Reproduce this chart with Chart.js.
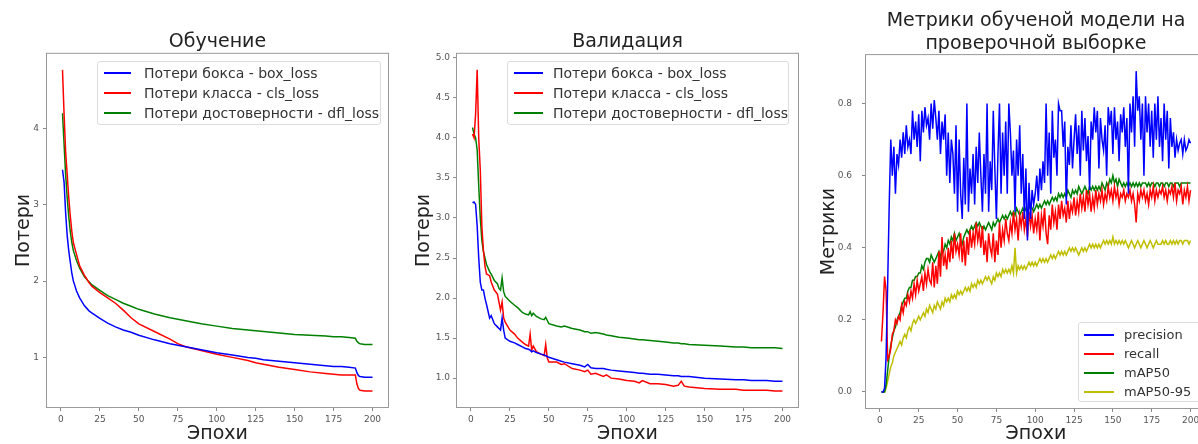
<!DOCTYPE html>
<html lang="ru">
<head>
    <meta charset="UTF-8">
    <title>Обучение, валидация и метрики модели</title>
    <script src="https://cdn.jsdelivr.net/npm/chart.js@4.4.1/dist/chart.umd.min.js"></script>
    <style>
        body {
            margin: 0;
            width: 1198px;
            height: 444px;
            overflow: hidden;
            background: #fff;
            font-family: 'DejaVu Sans', sans-serif;
        }
        .panel {
            position: absolute;
            top: 0;
            height: 444px;
        }
        .legend {
            position: absolute;
            box-sizing: border-box;
            border: 1px solid #ddd;
            border-radius: 3px;
            background: rgba(255, 255, 255, 0.85);
            color: #333;
            white-space: nowrap;
        }
        .legend .row {
            display: flex;
            align-items: center;
        }
        .legend .swatch {
            display: inline-block;
            height: 2px;
        }
    </style>
</head>
<body>
    <div class="panel" id="p1" style="left:0;width:400px"><canvas id="c1" width="400" height="444"></canvas></div>
    <div class="panel" id="p2" style="left:400px;width:400px"><canvas id="c2" width="400" height="444"></canvas></div>
    <div class="panel" id="p3" style="left:800px;width:410px"><canvas id="c3" width="410" height="444"></canvas></div>
    <div class="legend" id="l1" style="left:97px;top:61px;width:284px;height:64px;padding:1px 0 0 6px;font-size:14px"></div>
    <div class="legend" id="l2" style="left:507px;top:61px;width:282px;height:64px;padding:1px 0 0 6px;font-size:14px"></div>
    <div class="legend" id="l3" style="left:1078px;top:322px;width:130px;height:80px;padding:2px 0 0 5px;font-size:13px"></div>

    <script>
        // --- data -------------------------------------------------------
        const xTicks = [0, 25, 50, 75, 100, 125, 150, 175, 200];
        const lossNames = ['Потери бокса - box_loss', 'Потери класса - cls_loss', 'Потери достоверности - dfl_loss'];
        const metricNames = ['precision', 'recall', 'mAP50', 'mAP50-95'];

        // training losses
        const trainEpochs = [1, 2, 3, 4, 5, 6, 7, 8, 10, 12, 15, 18, 20, 25, 30, 35, 40, 45, 50, 60, 70, 75, 80, 90, 100, 110, 120, 125, 130, 140, 150, 160, 170, 175, 180, 185, 189, 190, 191, 192, 195, 200];
        const trainBox = [3.46, 3.30, 2.90, 2.60, 2.40, 2.25, 2.10, 2.00, 1.87, 1.78, 1.68, 1.61, 1.58, 1.51, 1.45, 1.40, 1.36, 1.33, 1.29, 1.23, 1.18, 1.16, 1.14, 1.10, 1.06, 1.03, 1.00, 0.99, 0.97, 0.95, 0.93, 0.91, 0.89, 0.88, 0.88, 0.87, 0.86, 0.80, 0.76, 0.75, 0.74, 0.74];
        const trainCls = [4.77, 4.20, 3.70, 3.40, 3.10, 2.85, 2.65, 2.50, 2.35, 2.20, 2.08, 1.98, 1.93, 1.85, 1.78, 1.71, 1.62, 1.52, 1.44, 1.34, 1.24, 1.18, 1.14, 1.09, 1.04, 1.00, 0.96, 0.93, 0.91, 0.87, 0.84, 0.81, 0.79, 0.78, 0.77, 0.77, 0.77, 0.65, 0.59, 0.57, 0.56, 0.56];
        const trainDfl = [4.20, 3.80, 3.40, 3.10, 2.85, 2.65, 2.50, 2.40, 2.27, 2.17, 2.06, 1.99, 1.95, 1.88, 1.81, 1.76, 1.71, 1.67, 1.63, 1.57, 1.52, 1.50, 1.48, 1.44, 1.41, 1.38, 1.36, 1.35, 1.34, 1.32, 1.30, 1.29, 1.28, 1.27, 1.27, 1.26, 1.25, 1.21, 1.19, 1.18, 1.17, 1.17];
        const trainYTicks = [1, 2, 3, 4];

        // validation losses
        const valEpochs = [1, 2, 3, 4, 5, 6, 7, 8, 9, 10, 12, 13, 15, 17, 18, 19, 20, 21, 22, 25, 28, 30, 33, 35, 37, 38, 39, 40, 42, 45, 47, 48, 49, 50, 55, 58, 60, 65, 70, 73, 75, 77, 80, 85, 87, 90, 95, 100, 105, 108, 110, 115, 120, 125, 130, 133, 135, 137, 140, 150, 160, 170, 175, 180, 190, 195, 200];
        const valBox = [3.19, 3.20, 3.17, 2.90, 2.50, 2.20, 2.10, 2.10, 2.00, 1.92, 1.75, 1.78, 1.68, 1.64, 1.62, 1.60, 1.75, 1.60, 1.50, 1.46, 1.44, 1.42, 1.39, 1.37, 1.36, 1.35, 1.33, 1.34, 1.32, 1.30, 1.29, 1.28, 1.27, 1.26, 1.23, 1.21, 1.20, 1.18, 1.16, 1.14, 1.17, 1.13, 1.12, 1.12, 1.11, 1.10, 1.09, 1.08, 1.07, 1.06, 1.06, 1.05, 1.05, 1.04, 1.03, 1.03, 1.02, 1.02, 1.02, 1.00, 0.99, 0.98, 0.98, 0.97, 0.97, 0.96, 0.96];
        const valCls = [4.05, 4.00, 4.30, 4.85, 4.00, 3.60, 2.90, 2.60, 2.40, 2.30, 2.28, 2.20, 2.10, 2.05, 1.95, 1.85, 1.95, 1.75, 1.70, 1.60, 1.55, 1.50, 1.45, 1.42, 1.40, 1.55, 1.35, 1.40, 1.33, 1.30, 1.28, 1.42, 1.25, 1.20, 1.20, 1.17, 1.18, 1.12, 1.10, 1.08, 1.10, 1.05, 1.06, 1.02, 1.04, 1.00, 0.99, 0.97, 0.96, 0.94, 0.97, 0.93, 0.93, 0.92, 0.90, 0.91, 0.96, 0.90, 0.89, 0.87, 0.86, 0.86, 0.85, 0.85, 0.85, 0.84, 0.84];
        const valDfl = [4.13, 4.05, 4.00, 3.85, 3.40, 3.00, 2.72, 2.58, 2.50, 2.42, 2.33, 2.30, 2.22, 2.18, 2.12, 2.10, 2.25, 2.08, 2.02, 1.96, 1.91, 1.88, 1.82, 1.80, 1.79, 1.83, 1.78, 1.81, 1.77, 1.74, 1.73, 1.76, 1.72, 1.68, 1.65, 1.64, 1.65, 1.62, 1.60, 1.58, 1.58, 1.56, 1.57, 1.55, 1.54, 1.53, 1.51, 1.50, 1.49, 1.48, 1.48, 1.47, 1.46, 1.45, 1.44, 1.44, 1.43, 1.43, 1.42, 1.41, 1.40, 1.39, 1.39, 1.38, 1.38, 1.38, 1.37];
        const valYTicks = [1.0, 1.5, 2.0, 2.5, 3.0, 3.5, 4.0, 4.5, 5.0];

        // metrics, one value per epoch 1..200
        const metricEpochs = Array.from({ length: 200 }, (_, i) => i + 1);
        const precision = [
            0.00, 0.00, 0.01, 0.10, 0.30, 0.52, 0.70, 0.60, 0.68, 0.55,
            0.66, 0.63, 0.70, 0.65, 0.72, 0.66, 0.74, 0.68, 0.70, 0.66,
            0.78, 0.70, 0.75, 0.68, 0.77, 0.64, 0.78, 0.72, 0.79, 0.74,
            0.76, 0.70, 0.80, 0.73, 0.81, 0.76, 0.70, 0.78, 0.66, 0.75,
            0.70, 0.77, 0.60, 0.72, 0.58, 0.70, 0.66, 0.55, 0.74, 0.50,
            0.70, 0.55, 0.48, 0.65, 0.52, 0.80, 0.50, 0.62, 0.55, 0.66,
            0.52, 0.68, 0.58, 0.72, 0.60, 0.50, 0.66, 0.55, 0.80, 0.50,
            0.64, 0.56, 0.78, 0.62, 0.48, 0.66, 0.80, 0.55, 0.72, 0.60,
            0.75, 0.55, 0.80, 0.72, 0.60, 0.67, 0.50, 0.70, 0.60, 0.74,
            0.55, 0.66, 0.48, 0.62, 0.42, 0.58, 0.48, 0.56, 0.52, 0.55,
            0.60, 0.53, 0.62, 0.56, 0.64, 0.58, 0.80, 0.60, 0.72, 0.55,
            0.78, 0.65, 0.70, 0.60, 0.80, 0.78, 0.78, 0.68, 0.75, 0.52,
            0.68, 0.63, 0.74, 0.62, 0.70, 0.77, 0.66, 0.74, 0.60, 0.78,
            0.67, 0.76, 0.64, 0.71, 0.56, 0.75, 0.70, 0.79, 0.72, 0.78,
            0.62, 0.76, 0.70, 0.67, 0.74, 0.60, 0.79, 0.74, 0.78, 0.66,
            0.79, 0.70, 0.75, 0.64, 0.77, 0.72, 0.79, 0.68, 0.76, 0.55,
            0.80, 0.72, 0.82, 0.68, 0.89, 0.78, 0.82, 0.70, 0.80, 0.60,
            0.82, 0.72, 0.80, 0.68, 0.78, 0.65, 0.80, 0.70, 0.82, 0.68,
            0.76, 0.64, 0.80, 0.70, 0.78, 0.62, 0.76, 0.68, 0.72, 0.65,
            0.70, 0.67, 0.69, 0.70, 0.66, 0.70, 0.67, 0.68, 0.70, 0.69
        ];
        const recall = [
            0.14, 0.22, 0.32, 0.28, 0.09, 0.10, 0.12, 0.16, 0.17, 0.20,
            0.19, 0.21, 0.20, 0.24, 0.22, 0.25, 0.24, 0.27, 0.25, 0.28,
            0.26, 0.30, 0.27, 0.31, 0.28, 0.30, 0.32, 0.28, 0.33, 0.30,
            0.34, 0.31, 0.30, 0.36, 0.29, 0.35, 0.30, 0.39, 0.32, 0.43,
            0.35, 0.38, 0.34, 0.40, 0.36, 0.42, 0.37, 0.44, 0.39, 0.41,
            0.38, 0.44, 0.36, 0.42, 0.35, 0.43, 0.38, 0.45, 0.40, 0.44,
            0.41, 0.47, 0.42, 0.45, 0.40, 0.46, 0.38, 0.42, 0.36, 0.44,
            0.40, 0.38, 0.44, 0.36, 0.42, 0.38, 0.47, 0.40, 0.45, 0.42,
            0.48, 0.44, 0.42, 0.47, 0.44, 0.50, 0.45, 0.48, 0.42, 0.49,
            0.46, 0.50, 0.45, 0.48, 0.43, 0.50, 0.46, 0.49, 0.44, 0.48,
            0.45, 0.50, 0.42, 0.49, 0.46, 0.51, 0.44, 0.41, 0.49, 0.45,
            0.52, 0.47, 0.50, 0.45, 0.52, 0.48, 0.53, 0.49, 0.51, 0.47,
            0.53, 0.48, 0.52, 0.50, 0.54, 0.49, 0.53, 0.50, 0.55, 0.51,
            0.54, 0.50, 0.56, 0.52, 0.55, 0.50, 0.54, 0.51, 0.56, 0.52,
            0.55, 0.53, 0.56, 0.52, 0.55, 0.53, 0.57, 0.54, 0.56, 0.53,
            0.57, 0.54, 0.56, 0.52, 0.55, 0.54, 0.56, 0.53, 0.55, 0.54,
            0.56, 0.53, 0.55, 0.52, 0.47, 0.55, 0.53, 0.56, 0.54, 0.56,
            0.53, 0.55, 0.52, 0.56, 0.54, 0.57, 0.53, 0.56, 0.54, 0.56,
            0.55, 0.57, 0.54, 0.56, 0.53, 0.56, 0.55, 0.57, 0.54, 0.58,
            0.53, 0.56, 0.55, 0.57, 0.52, 0.56, 0.54, 0.57, 0.53, 0.56
        ];
        const map50 = [
            0.00, 0.00, 0.00, 0.02, 0.06, 0.10, 0.13, 0.15, 0.17, 0.18,
            0.20, 0.21, 0.22, 0.24, 0.25, 0.26, 0.26, 0.28, 0.29, 0.29,
            0.31, 0.31, 0.32, 0.32, 0.33, 0.33, 0.35, 0.34, 0.36, 0.37,
            0.37, 0.36, 0.38, 0.37, 0.36, 0.37, 0.38, 0.39, 0.37, 0.40,
            0.39, 0.41, 0.40, 0.42, 0.41, 0.43, 0.42, 0.44, 0.42, 0.43,
            0.44, 0.42, 0.41, 0.43, 0.44, 0.45, 0.44, 0.45, 0.46, 0.45,
            0.46, 0.47, 0.46, 0.47, 0.46, 0.45, 0.46, 0.45, 0.46, 0.47,
            0.46, 0.45, 0.47, 0.46, 0.47, 0.48, 0.47, 0.48, 0.49, 0.48,
            0.49, 0.48, 0.49, 0.50, 0.49, 0.50, 0.49, 0.51, 0.50, 0.49,
            0.50, 0.51, 0.50, 0.51, 0.50, 0.51, 0.52, 0.51, 0.50, 0.51,
            0.52, 0.51, 0.52, 0.51, 0.52, 0.53, 0.52, 0.53, 0.52, 0.53,
            0.54, 0.53, 0.54, 0.53, 0.55, 0.54, 0.55, 0.54, 0.55, 0.54,
            0.56, 0.55, 0.54, 0.56, 0.55, 0.56, 0.55, 0.57, 0.56, 0.55,
            0.56, 0.57, 0.56, 0.55, 0.57, 0.56, 0.57, 0.56, 0.57, 0.56,
            0.57, 0.56, 0.58, 0.57, 0.56, 0.58, 0.57, 0.59, 0.58, 0.60,
            0.58, 0.59, 0.57, 0.59, 0.58, 0.57, 0.58, 0.57, 0.58, 0.57,
            0.58, 0.57, 0.58, 0.57, 0.58, 0.57, 0.58, 0.57, 0.58, 0.58,
            0.58, 0.57, 0.58, 0.57, 0.58, 0.58, 0.57, 0.58, 0.58, 0.57,
            0.58, 0.58, 0.57, 0.58, 0.58, 0.57, 0.58, 0.58, 0.57, 0.58,
            0.58, 0.58, 0.57, 0.58, 0.58, 0.58, 0.58, 0.58, 0.58, 0.58
        ];
        const map5095 = [
            0.00, 0.00, 0.00, 0.01, 0.03, 0.05, 0.07, 0.08, 0.10, 0.11,
            0.12, 0.13, 0.14, 0.13, 0.15, 0.16, 0.15, 0.17, 0.18, 0.17,
            0.19, 0.20, 0.19, 0.20, 0.21, 0.20, 0.21, 0.22, 0.21, 0.23,
            0.22, 0.24, 0.23, 0.22, 0.24, 0.23, 0.25, 0.24, 0.23, 0.25,
            0.24, 0.26, 0.25, 0.26, 0.25, 0.27, 0.26, 0.27, 0.26, 0.28,
            0.27, 0.28, 0.27, 0.28, 0.29, 0.28, 0.29, 0.28, 0.30, 0.29,
            0.30, 0.29, 0.31, 0.30, 0.31, 0.30, 0.31, 0.32, 0.31, 0.32,
            0.31, 0.30, 0.32, 0.31, 0.33, 0.32, 0.33, 0.32, 0.34, 0.33,
            0.34, 0.33, 0.34, 0.33, 0.35, 0.33, 0.40, 0.33, 0.35, 0.34,
            0.35, 0.34, 0.35, 0.34, 0.35, 0.36, 0.35, 0.36, 0.35, 0.36,
            0.35, 0.36, 0.37, 0.36, 0.37, 0.36, 0.37, 0.36, 0.37, 0.38,
            0.37, 0.38, 0.37, 0.38, 0.39, 0.38, 0.39, 0.38, 0.39, 0.38,
            0.39, 0.40, 0.39, 0.40, 0.39, 0.40, 0.39, 0.38, 0.39, 0.40,
            0.39, 0.40, 0.39, 0.40, 0.41, 0.40, 0.41, 0.40, 0.41, 0.40,
            0.41, 0.40, 0.41, 0.42, 0.41, 0.42, 0.41, 0.42, 0.41, 0.43,
            0.41, 0.42, 0.41, 0.42, 0.41, 0.42, 0.41, 0.42, 0.41, 0.40,
            0.41, 0.42, 0.41, 0.40, 0.41, 0.42, 0.41, 0.40, 0.41, 0.42,
            0.41, 0.40, 0.41, 0.42, 0.41, 0.40, 0.41, 0.42, 0.41, 0.41,
            0.41, 0.42, 0.41, 0.42, 0.41, 0.41, 0.42, 0.41, 0.42, 0.41,
            0.42, 0.41, 0.42, 0.42, 0.41, 0.42, 0.42, 0.42, 0.41, 0.42
        ];
        const metricYTicks = [0.0, 0.2, 0.4, 0.6, 0.8];

        // --- drawing ----------------------------------------------------
        Chart.defaults.font.family = "'DejaVu Sans', sans-serif";
        Chart.defaults.color = '#555';

        const lossColors = ['#0000ff', '#ff0000', '#008000'];
        const metricColors = ['#0000ff', '#ff0000', '#008000', '#bfbf00'];

        // matplotlib-like frame round the plot area
        const framePlugin = {
            id: 'frame',
            afterDatasetsDraw(chart) {
                const { ctx, chartArea: a } = chart;
                ctx.save();
                ctx.strokeStyle = '#999';
                ctx.lineWidth = 1;
                ctx.strokeRect(a.left - 0.5, a.top - 0.5, a.right - a.left + 1, a.bottom - a.top + 1);
                ctx.restore();
            }
        };

        // 5% margin like matplotlib autoscale
        function range(values) {
            const lo = Math.min(...values), hi = Math.max(...values);
            const pad = (hi - lo) * 0.05;
            return { min: lo - pad, max: hi + pad };
        }

        function makePanel(opt) {
            const xr = range(opt.epochs);
            const yr = range(opt.series.flat());
            const datasets = opt.series.map((vals, i) => ({
                label: opt.names[i],
                data: vals.map((v, j) => ({ x: opt.epochs[j], y: v })),
                borderColor: opt.colors[i],
                borderWidth: 1.5,
                pointRadius: 0,
                tension: 0,
                fill: false
            }));

            const chart = new Chart(document.getElementById(opt.canvas), {
                type: 'line',
                data: { datasets },
                plugins: [framePlugin],
                options: {
                    responsive: false,
                    animation: false,
                    devicePixelRatio: 1,
                    layout: { padding: { left: 0, right: opt.padRight, top: 0, bottom: 0 } },
                    plugins: {
                        legend: { display: false },
                        tooltip: { enabled: false },
                        title: {
                            display: true,
                            text: opt.title,
                            fullSize: false,
                            color: '#222',
                            font: { size: 19, weight: 'normal', lineHeight: 1.2 },
                            padding: { top: opt.titleTop, bottom: 0 }
                        }
                    },
                    scales: {
                        x: {
                            type: 'linear',
                            min: xr.min,
                            max: xr.max,
                            afterBuildTicks: s => { s.ticks = xTicks.map(v => ({ value: v })); },
                            afterFit: s => { s.height = opt.xHeight; },
                            border: { display: false },
                            grid: { drawOnChartArea: false, drawTicks: true, tickLength: 4, tickColor: '#888' },
                            ticks: { font: { size: 9 }, padding: 3, maxRotation: 0, autoSkip: false },
                            title: {
                                display: true,
                                text: 'Эпохи',
                                color: '#222',
                                font: { size: 19, lineHeight: 1 },
                                padding: { top: 0, bottom: 0 }
                            }
                        },
                        y: {
                            type: 'linear',
                            min: yr.min,
                            max: yr.max,
                            afterBuildTicks: s => { s.ticks = opt.yTicks.map(v => ({ value: v })); },
                            afterFit: s => { s.width = opt.yWidth; },
                            border: { display: false },
                            grid: { drawOnChartArea: false, drawTicks: true, tickLength: 4, tickColor: '#888' },
                            ticks: {
                                font: { size: 9 },
                                padding: opt.yTickPad,
                                autoSkip: false,
                                callback: v => v.toFixed(opt.yDigits)
                            },
                            title: {
                                display: true,
                                text: opt.yTitle,
                                color: '#222',
                                font: { size: 19, lineHeight: 1 },
                                padding: { top: opt.yTitlePad, bottom: 0 }
                            }
                        }
                    }
                }
            });

            // legend as html, built from the chart's datasets
            const box = document.getElementById(opt.legend);
            chart.data.datasets.forEach(ds => {
                const row = document.createElement('div');
                row.className = 'row';
                row.style.height = opt.rowHeight + 'px';
                const sw = document.createElement('span');
                sw.className = 'swatch';
                sw.style.width = opt.swatch + 'px';
                sw.style.marginRight = opt.gap + 'px';
                sw.style.background = ds.borderColor;
                const txt = document.createElement('span');
                txt.textContent = ds.label;
                row.appendChild(sw);
                row.appendChild(txt);
                box.appendChild(row);
            });
            return chart;
        }

        makePanel({
            canvas: 'c1', legend: 'l1', title: 'Обучение', yTitle: 'Потери',
            epochs: trainEpochs, series: [trainBox, trainCls, trainDfl],
            names: lossNames, colors: lossColors,
            yTicks: trainYTicks, yDigits: 0,
            yWidth: 47, padRight: 12, titleTop: 31, xHeight: 37,
            yTitlePad: 14.5, yTickPad: 4,
            rowHeight: 20, swatch: 27, gap: 13
        });

        makePanel({
            canvas: 'c2', legend: 'l2', title: 'Валидация', yTitle: 'Потери',
            epochs: valEpochs, series: [valBox, valCls, valDfl],
            names: lossNames, colors: lossColors,
            yTicks: valYTicks, yDigits: 1,
            yWidth: 57, padRight: 2, titleTop: 31, xHeight: 37,
            yTitlePad: 14.5, yTickPad: 3,
            rowHeight: 20, swatch: 29, gap: 10
        });

        makePanel({
            canvas: 'c3', legend: 'l3', title: ['Метрики обученой модели на', 'проверочной выборке'], yTitle: 'Метрики',
            epochs: metricEpochs, series: [precision, recall, map50, map5095],
            names: metricNames, colors: metricColors,
            yTicks: metricYTicks, yDigits: 1,
            yWidth: 66, padRight: 4, titleTop: 9.5, xHeight: 36,
            yTitlePad: 19.5, yTickPad: 10,
            rowHeight: 19, swatch: 30, gap: 10
        });
    </script>
</body>
</html>
